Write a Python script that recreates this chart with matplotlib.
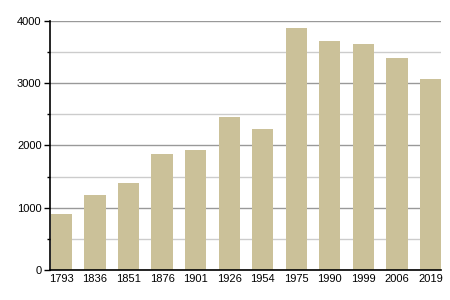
import matplotlib
matplotlib.use('Agg')
import matplotlib.pyplot as plt
from matplotlib.ticker import MultipleLocator

years = ['1793', '1836', '1851', '1876', '1901', '1926', '1954',
         '1975', '1990', '1999', '2006', '2019']
population = [900, 1205, 1400, 1862, 1928, 2451, 2263,
              3884, 3676, 3627, 3403, 3066]

plt.rcParams['font.family'] = ['Liberation Sans', 'DejaVu Sans']

fig = plt.figure(figsize=(4.5, 3), dpi=100)
ax = fig.add_axes([0.111, 0.1, 0.869, 0.831])

x = range(len(years))
ax.bar(x, population, width=0.63, color='#cbc199', zorder=2)

ax.set_xlim(-0.34, 11.31)
ax.set_ylim(0, 4000)
ax.yaxis.set_major_locator(MultipleLocator(1000))
ax.yaxis.set_minor_locator(MultipleLocator(500))
ax.grid(axis='y', which='major', color='#999999', linewidth=1, zorder=0)
ax.grid(axis='y', which='minor', color='#cccccc', linewidth=1, zorder=0)
ax.set_axisbelow(True)

ax.set_xticks(list(x))
ax.set_xticklabels(years)
ax.tick_params(axis='x', length=0, pad=3, labelsize=8)
ax.tick_params(axis='y', which='major', length=4, width=1, labelsize=8, pad=2)
ax.tick_params(axis='y', which='minor', length=2, width=1)

for side in ('top', 'right'):
    ax.spines[side].set_visible(False)
ax.spines['left'].set_linewidth(1.2)
ax.spines['bottom'].set_linewidth(1.2)

fig.savefig('out.png', dpi=100)
